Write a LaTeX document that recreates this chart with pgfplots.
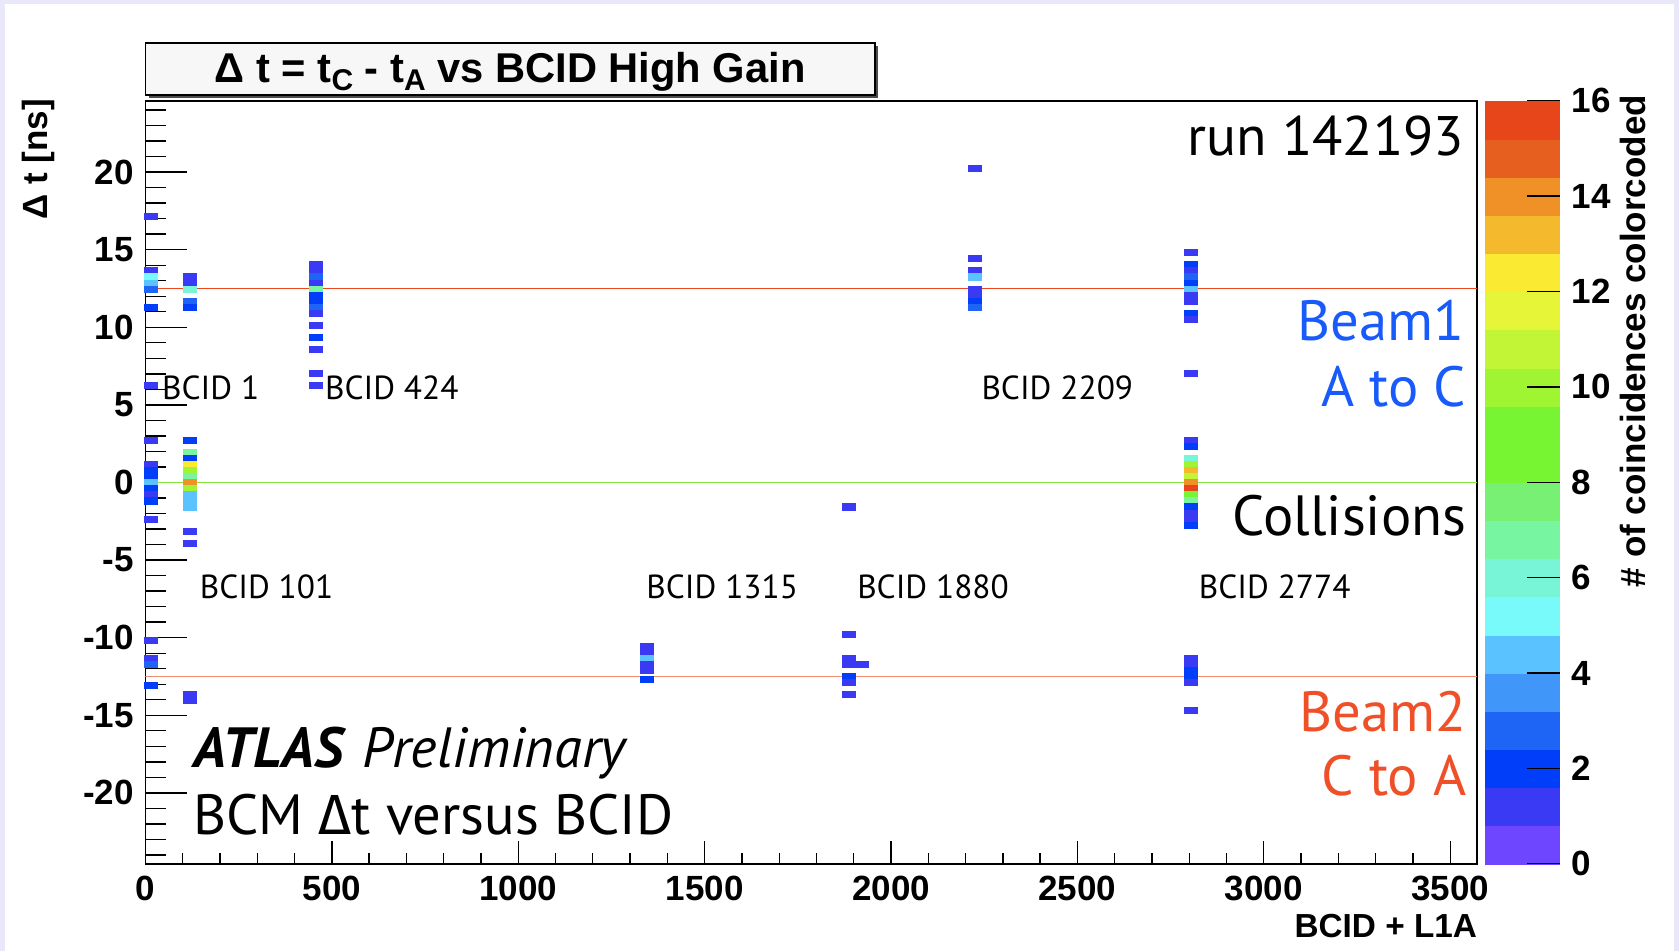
\documentclass[border=0pt]{standalone}
\usepackage{fontspec}
\setmainfont{Liberation Sans}
\newfontfamily\annot{PT Sans}
\newfontfamily\annotgr{Fira Sans}
\usepackage{pgfplots}
\pgfplotsset{compat=1.18}

\definecolor{lavbg}{RGB}{232,232,250}
\definecolor{beamone}{RGB}{25,90,250}
\definecolor{beamtwo}{RGB}{240,80,40}
\definecolor{redline}{RGB}{238,70,30}
\definecolor{redlinelow}{RGB}{240,140,110}
\definecolor{greenline}{RGB}{130,230,60}

\pgfplotsset{
  histcell/.style={scatter, only marks, mark=square*, mark size=1pt,
    mark options={xscale=1.957, yscale=0.908, line width=0.1pt},
    scatter/use mapped color={draw=mapped color, fill=mapped color},
    point meta=\thisrow{c}},
}

\begin{document}
\begin{tikzpicture}
\fill[lavbg] (0,0) rectangle (503.7pt,285.3pt);
\fill[white] (1.6pt,0) rectangle (502.1pt,284pt);

% title box
\fill[black!70] (44.6pt,255.8pt) rectangle (263.3pt,271.5pt);
\draw[black, line width=0.5pt, fill=black!3] (43.68pt,256.71pt) rectangle (262.44pt,272.46pt);
\node[anchor=base, inner sep=0pt, font=\fontsize{12.5}{14}\selectfont\bfseries] at (153.06pt,260.55pt)
  {Δ t = t\raisebox{-0.35ex}{\fontsize{9}{9}\selectfont C} - t\raisebox{-0.35ex}{\fontsize{9}{9}\selectfont A} vs BCID High Gain};

\begin{axis}[
  at={(43.65pt,26.01pt)}, anchor=south west,
  scale only axis, width=399.45pt, height=229.08pt,
  xmin=0, xmax=3572, ymin=-24.6, ymax=24.6,
  xtick={0,500,...,3500}, ytick={-20,-15,...,20},
  minor xtick={0,100,...,3500}, minor ytick={-24,-23,...,24},
  tick align=inside, tick pos=left,
  major tick length=12.3pt, minor tick length=6pt,
  xtick style={/pgfplots/major tick length=6.9pt, /pgfplots/minor tick length=3.3pt},
  tick style={black, line width=0.4pt},
  axis line style={line width=0.5pt},
  scaled ticks=false,
  /pgf/number format/1000 sep={},
  /pgf/number format/assume math mode=true,
  ticklabel style={font=\fontsize{10.5}{12}\selectfont\bfseries},
  colormap={rootpal}{
    rgb255=(110,70,255) rgb255=(58,58,245) rgb255=(0,62,250) rgb255=(30,100,245)
    rgb255=(65,150,250) rgb255=(90,195,255) rgb255=(120,250,250) rgb255=(120,245,215)
    rgb255=(120,245,160) rgb255=(120,240,115) rgb255=(120,245,50) rgb255=(120,245,50)
    rgb255=(160,245,50) rgb255=(195,245,55) rgb255=(230,245,55) rgb255=(250,235,50)
    rgb255=(245,185,45) rgb255=(240,145,40) rgb255=(230,95,30) rgb255=(230,70,25)},
  colormap access=piecewise constant,
  point meta min=-0.01, point meta max=16,
  colorbar,
  colorbar style={
    at={(parent axis.north east)}, anchor=north west, xshift=-6.2pt,
    scale only axis, width=22.6pt, height=229.08pt,
    colormap access=piecewise constant,
    ytick={0,2,...,16}, ytick pos=right, yticklabel pos=right,
    tick align=inside, major tick length=10pt,
    ytick style={black, line width=0.4pt},
    axis line style={draw=none},
    /pgf/number format/assume math mode=true,
    yticklabel style={font=\fontsize{10.5}{12}\selectfont\bfseries},
  },
]
% BCID 1
\addplot[histcell] table[row sep=\\] {x y c\\
 15 17.16 1\\ 15 13.65 1\\ 15 13.26 5\\ 15 12.87 4\\ 15 12.48 3\\ 15 11.31 2\\
 15 6.24 1\\ 15 2.73 1\\ 15 1.17 1\\ 15 0.78 2\\ 15 0.39 2\\ 15 0 4\\
 15 -0.39 2\\ 15 -0.78 1\\ 15 -1.17 2\\ 15 -2.34 1\\ 15 -10.14 1\\
 15 -11.31 1\\ 15 -11.70 3\\ 15 -13.07 2\\};
% BCID 101
\addplot[histcell] table[row sep=\\] {x y c\\
 118 13.26 1\\ 118 12.87 1\\ 118 12.48 6\\ 118 11.70 3\\ 118 11.31 2\\
 118 2.73 2\\ 118 1.95 7\\ 118 1.56 2\\ 118 1.17 12\\ 118 0.78 10\\
 118 0.39 7\\ 118 0 14\\ 118 -0.39 10\\ 118 -0.78 4\\ 118 -1.17 4\\
 118 -1.56 4\\ 118 -3.12 1\\ 118 -3.90 1\\ 118 -13.65 1\\ 118 -14.04 1\\};
% BCID 424
\addplot[histcell] table[row sep=\\] {x y c\\
 456.5 14.04 1\\ 456.5 13.65 1\\ 456.5 13.26 3\\ 456.5 12.87 1\\ 456.5 12.48 7\\
 456.5 12.09 2\\ 456.5 11.70 2\\ 456.5 11.31 3\\ 456.5 10.92 1\\ 456.5 10.14 1\\
 456.5 9.36 2\\ 456.5 8.58 1\\ 456.5 7.02 1\\ 456.5 6.24 1\\};
% BCID 1315
\addplot[histcell] table[row sep=\\] {x y c\\
 1344 -10.53 1\\ 1344 -10.92 1\\ 1344 -11.31 4\\ 1344 -11.70 1\\ 1344 -12.09 1\\
 1344 -12.70 2\\};
% BCID 1880
\addplot[histcell] table[row sep=\\] {x y c\\
 1886.5 -1.56 1\\ 1886.5 -9.75 1\\ 1886.5 -11.31 1\\ 1886.5 -11.70 1\\
 1921.5 -11.70 1\\ 1886.5 -12.48 2\\ 1886.5 -12.87 1\\ 1886.5 -13.65 1\\};
% BCID 2209
\addplot[histcell] table[row sep=\\] {x y c\\
 2225.5 20.28 1\\ 2225.5 14.43 1\\ 2225.5 13.65 1\\ 2225.5 13.26 4\\
 2225.5 12.48 1\\ 2225.5 12.09 1\\ 2225.5 11.70 2\\ 2225.5 11.31 3\\};
% BCID 2774
\addplot[histcell] table[row sep=\\] {x y c\\
 2804.5 14.82 1\\ 2804.5 14.04 2\\ 2804.5 13.65 1\\ 2804.5 13.26 3\\ 2804.5 12.87 2\\
 2804.5 12.48 4\\ 2804.5 12.09 1\\ 2804.5 11.70 1\\ 2804.5 10.92 2\\ 2804.5 10.53 1\\
 2804.5 7.02 1\\ 2804.5 2.73 1\\ 2804.5 2.34 2\\ 2804.5 1.56 6\\ 2804.5 1.17 10\\
 2804.5 0.78 13\\ 2804.5 0.39 11\\ 2804.5 0 14\\ 2804.5 -0.39 16\\ 2804.5 -0.78 8\\
 2804.5 -1.17 7\\ 2804.5 -1.56 2\\ 2804.5 -1.95 1\\ 2804.5 -2.34 1\\ 2804.5 -2.73 2\\
 2804.5 -11.31 1\\ 2804.5 -11.70 1\\ 2804.5 -12.09 2\\ 2804.5 -12.48 2\\
 2804.5 -12.87 1\\ 2804.5 -14.64 1\\};

% reference lines
\addplot[redline, line width=0.5pt] coordinates {(0,12.5) (3572,12.5)};
\addplot[greenline, line width=0.45pt] coordinates {(0,0) (3572,0)};
\addplot[redlinelow, line width=0.5pt] coordinates {(0,-12.5) (3572,-12.5)};

% annotations
\begin{scope}[every node/.style={inner sep=0pt}]
\node[anchor=base west, font=\annot\fontsize{10}{12}\selectfont] at (axis cs:43,5.37) {BCID 1};
\node[anchor=base west, font=\annot\fontsize{10}{12}\selectfont] at (axis cs:480,5.37) {BCID 424};
\node[anchor=base west, font=\annot\fontsize{10}{12}\selectfont] at (axis cs:2241,5.37) {BCID 2209};
\node[anchor=base west, font=\annot\fontsize{10}{12}\selectfont] at (axis cs:144,-7.47) {BCID 101};
\node[anchor=base west, font=\annot\fontsize{10}{12}\selectfont] at (axis cs:1342,-7.47) {BCID 1315};
\node[anchor=base west, font=\annot\fontsize{10}{12}\selectfont] at (axis cs:1907.6,-7.47) {BCID 1880};
\node[anchor=base west, font=\annot\fontsize{10}{12}\selectfont] at (axis cs:2824,-7.47) {BCID 2774};
\node[anchor=base east, font=\annot\fontsize{16.7}{20}\selectfont] at (axis cs:3539.6,21.1) {run 142193};
\node[anchor=base east, font=\annot\fontsize{17}{20}\selectfont, text=beamone] at (axis cs:3539.6,9.16) {Beam1};
\node[anchor=base east, font=\annot\fontsize{17}{20}\selectfont, text=beamone] at (axis cs:3545,4.88) {A to C};
\node[anchor=base east, font=\annot\fontsize{17}{20}\selectfont] at (axis cs:3545,-3.40) {Collisions};
\node[anchor=base east, font=\annot\fontsize{17}{20}\selectfont, text=beamtwo] at (axis cs:3545,-16.02) {Beam2};
\node[anchor=base east, font=\annot\fontsize{17}{20}\selectfont, text=beamtwo] at (axis cs:3545,-20.16) {C to A};
\node[anchor=base west, font=\annot\fontsize{17}{20}\selectfont] at (axis cs:126.7,-18.37) {\textbf{\textit{ATLAS}} \textit{Preliminary}};
\node[anchor=base west, font=\annot\fontsize{17}{20}\selectfont] at (axis cs:126.7,-22.71) {BCM {\annotgr Δ}t versus BCID};
\end{scope}
\end{axis}

% axis titles
\node[rotate=90, anchor=east, inner sep=0pt, font=\fontsize{10.5}{12}\selectfont\bfseries] at (11.6pt,255.8pt) {Δ t [ns]};
\node[anchor=base east, inner sep=0pt, font=\fontsize{10}{12}\selectfont\bfseries] at (443.3pt,3.9pt) {BCID + L1A};
\node[rotate=90, anchor=east, inner sep=0pt, font=\fontsize{10.5}{12}\selectfont\bfseries] at (489.9pt,257pt) {\# of coincidences colorcoded};

\pgfresetboundingbox
\path[use as bounding box] (0,0) rectangle (503.7pt,285.3pt);
\end{tikzpicture}
\end{document}
